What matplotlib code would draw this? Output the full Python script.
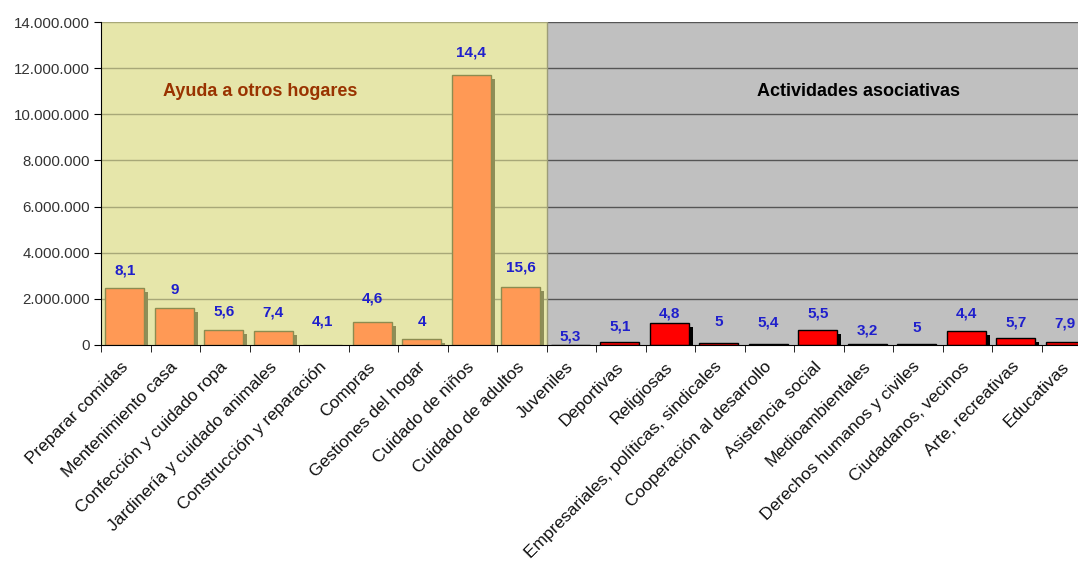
import numpy as np
import matplotlib
matplotlib.use('Agg')
from matplotlib import pyplot as plt
from matplotlib.transforms import offset_copy
from matplotlib.ticker import FuncFormatter

plt.rcParams['font.family'] = ['Liberation Sans', 'DejaVu Sans']

# Ayuda a otros hogares
hogar_cats = ['Preparar comidas', 'Mentenimiento casa', 'Confección y cuidado ropa',
              'Jardinería y cuidado animales', 'Construcción y reparación', 'Compras',
              'Gestiones del hogar', 'Cuidado de niños', 'Cuidado de adultos']
hogar_vals = [2460000, 1590000, 670000, 610000, 0, 990000, 260000, 11700000, 2500000]
hogar_pct = ['8,1', '9', '5,6', '7,4', '4,1', '4,6', '4', '14,4', '15,6']

# Actividades asociativas
asoc_cats = ['Juveniles', 'Deportivas', 'Religiosas', 'Empresariales, políticas, sindicales',
             'Cooperación al desarrollo', 'Asistencia social', 'Medioambientales',
             'Derechos humanos y civiles', 'Ciudadanos, vecinos', 'Arte, recreativas',
             'Educativas']
asoc_vals = [20000, 140000, 950000, 100000, 30000, 630000, 40000, 30000, 600000, 320000, 120000]
asoc_pct = ['5,3', '5,1', '4,8', '5', '5,4', '5,5', '3,2', '5', '4,4', '5,7', '7,9']

# label distance above bar top (pixels), as Excel placed them
hogar_dy = [18, 18, 18, 18, 23, 24, 17, 23, 20]
asoc_dy = [8, 15, 10, 21, 22, 17, 14, 16, 18, 15, 19]

cats = hogar_cats + asoc_cats
n_h = len(hogar_cats)
n = len(cats)

fig = plt.figure(figsize=(10.78, 5.71), dpi=100)
ax = fig.add_axes([101 / 1078, 226 / 571, 49.5 * n / 1078, 323 / 571])
ax.set_xlim(-0.5, n - 0.5)
ax.set_ylim(0, 14000000)

# two background zones
ax.axvspan(-0.5, n_h - 0.5, color='#E6E6AA', zorder=0, lw=0)
ax.axvspan(n_h - 0.5, n - 0.5, color='#C0C0C0', zorder=0, lw=0)
grid_y = np.arange(2000000, 14000001, 2000000)
ax.hlines(grid_y, -0.5, n_h - 0.5, color='#A8A878', lw=1, zorder=1)
ax.hlines(grid_y, n_h - 0.5, n - 0.5, color='#555555', lw=1, zorder=1)
ax.axvline(n_h - 0.5, color='#9C9C78', lw=1, zorder=1)

# bars with a drop shadow
shadow = offset_copy(ax.transData, fig=fig, x=4, y=-4, units='dots')
xh = np.arange(n_h) - 0.02
xa = np.arange(n_h, n) - 0.02
w = 0.78
ax.bar(xh, hogar_vals, w, color='#8E8E58', transform=shadow, zorder=2, lw=0)
ax.bar(xa, asoc_vals, w, color='#000000', transform=shadow, zorder=2, lw=0)
ax.bar(xh, hogar_vals, w, color='#FF9955', edgecolor='#8C8C50', lw=1, zorder=3)
ax.bar(xa, asoc_vals, w, color='#FF0000', edgecolor='#000000', lw=1, zorder=3)

for x, v, t, dy in zip(np.arange(n), hogar_vals + asoc_vals, hogar_pct + asoc_pct,
                       hogar_dy + asoc_dy):
    ax.annotate(t, (x - 0.02, v), xytext=(0, dy), textcoords='offset pixels',
                ha='center', va='center', color='#1F1FCC', fontsize=11,
                fontweight='bold', zorder=4)

ax.text(2.71, 10970000, 'Ayuda a otros hogares', ha='center', va='center',
        fontsize=13, fontweight='bold', color='#993300')
ax.text(14.81, 10970000, 'Actividades asociativas', ha='center', va='center',
        fontsize=13, fontweight='bold', color='black')

# axes
for s in ['top', 'right']:
    ax.spines[s].set_visible(False)
ax.spines['left'].set_color('black')
ax.spines['bottom'].set_color('black')
ax.spines['left'].set_zorder(5)
ax.spines['bottom'].set_zorder(5)

ax.set_yticks(np.arange(0, 14000001, 2000000))
ax.yaxis.set_major_formatter(FuncFormatter(lambda v, p: '{:,.0f}'.format(v).replace(',', '.')))
ax.tick_params(axis='y', length=5, direction='out', labelsize=10.8, labelcolor='#333333', pad=3)

ax.set_xticks(np.arange(n))
ax.set_xticklabels(cats, rotation=45, ha='right', va='center', rotation_mode='anchor',
                   fontsize=12.5, color='#111111')
ax.set_xticks(np.arange(-0.5, n), minor=True)
ax.tick_params(axis='x', which='major', length=0, pad=14)
ax.tick_params(axis='x', which='minor', length=5, direction='out')

fig.savefig('out.png', dpi=100)
